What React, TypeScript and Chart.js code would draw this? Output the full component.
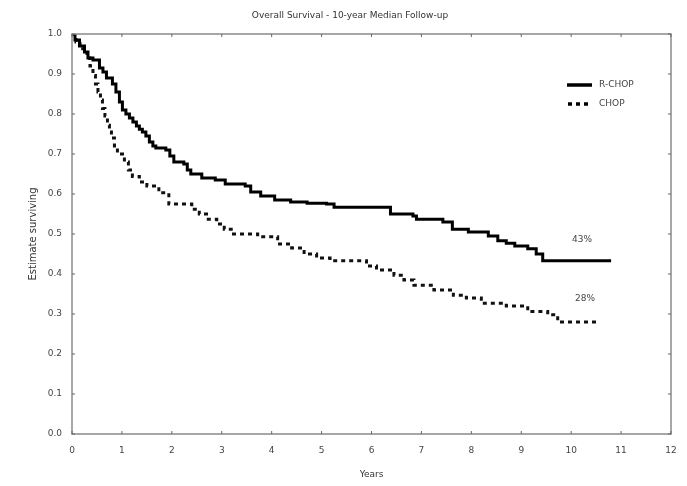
import React, { useEffect, useRef } from "react";
import { Chart, registerables } from "chart.js";

Chart.register(...registerables);

const titleText = "Overall Survival - 10-year Median Follow-up";
const xAxisLabel = "Years";
const yAxisLabel = "Estimate surviving";
const seriesNames = ["R-CHOP", "CHOP"];
const endLabels = ["43%", "28%"];

const xTicks = [0, 1, 2, 3, 4, 5, 6, 7, 8, 9, 10, 11, 12];
const yTicks = [0, 0.1, 0.2, 0.3, 0.4, 0.5, 0.6, 0.7, 0.8, 0.9, 1.0];

const rchopYears = [0, 0.06, 0.15, 0.25, 0.32, 0.42, 0.55, 0.62, 0.69, 0.81, 0.88, 0.95, 1.01, 1.08, 1.15, 1.22, 1.29, 1.35, 1.41, 1.48, 1.55, 1.62, 1.68, 1.88, 1.96, 2.04, 2.24, 2.31, 2.38, 2.6, 2.87, 3.07, 3.47, 3.58, 3.78, 4.06, 4.38, 4.71, 5.1, 5.25, 6.38, 6.83, 6.9, 7.43, 7.62, 7.94, 8.34, 8.53, 8.7, 8.87, 9.13, 9.3, 9.43, 10.8];
const rchopSurvival = [1.0, 0.985, 0.97, 0.955, 0.94, 0.935, 0.915, 0.905, 0.89, 0.875, 0.855, 0.83, 0.81, 0.8, 0.79, 0.78, 0.77, 0.762, 0.755, 0.745, 0.73, 0.72, 0.715, 0.71, 0.695, 0.68, 0.675, 0.66, 0.65, 0.64, 0.635, 0.625, 0.62, 0.605, 0.595, 0.585, 0.58, 0.577, 0.575, 0.567, 0.55, 0.545, 0.537, 0.53, 0.512, 0.505, 0.495, 0.483, 0.477, 0.47, 0.463, 0.45, 0.433, 0.433];

const chopYears = [0, 0.08, 0.16, 0.3, 0.36, 0.42, 0.47, 0.52, 0.57, 0.61, 0.66, 0.71, 0.75, 0.79, 0.85, 0.91, 1.05, 1.13, 1.21, 1.35, 1.5, 1.74, 1.94, 2.4, 2.55, 2.73, 2.9, 3.05, 3.19, 3.72, 4.12, 4.4, 4.65, 4.9, 5.17, 5.9, 6.1, 6.45, 6.65, 6.85, 7.25, 7.64, 7.9, 8.2, 8.7, 9.13, 9.53, 9.73, 10.56];
const chopSurvival = [1.0, 0.98, 0.963, 0.94, 0.92, 0.896, 0.875, 0.855, 0.835, 0.814, 0.795, 0.772, 0.755, 0.74, 0.72, 0.7, 0.68, 0.66, 0.644, 0.63, 0.62, 0.603, 0.575, 0.562, 0.55, 0.537, 0.525, 0.512, 0.5, 0.493, 0.475, 0.465, 0.45, 0.44, 0.433, 0.42, 0.41, 0.397, 0.385, 0.372, 0.36, 0.347, 0.34, 0.327, 0.32, 0.306, 0.298, 0.28, 0.28];

const FONT = "'DejaVu Sans', sans-serif";

const toPoints = (xs: number[], ys: number[]) => xs.map((x, i) => ({ x, y: ys[i] }));

const overlay = {
  id: "overlay",
  afterDraw(chart: any) {
    const { ctx, chartArea } = chart;
    const xs = chart.scales.x;
    const ys = chart.scales.y;
    const { left, right, top, bottom } = chartArea;
    ctx.save();
    ctx.strokeStyle = "#8a8a8a";
    ctx.lineWidth = 1.5;
    ctx.strokeRect(left, top, right - left, bottom - top);
    ctx.lineWidth = 1;
    ctx.strokeStyle = "#666";
    ctx.beginPath();
    xTicks.forEach((t) => {
      const px = xs.getPixelForValue(t);
      ctx.moveTo(px, bottom);
      ctx.lineTo(px, bottom - 3);
      ctx.moveTo(px, top);
      ctx.lineTo(px, top + 3);
    });
    yTicks.forEach((t) => {
      const py = ys.getPixelForValue(t);
      ctx.moveTo(left, py);
      ctx.lineTo(left + 3, py);
      ctx.moveTo(right, py);
      ctx.lineTo(right - 3, py);
    });
    ctx.stroke();

    ctx.fillStyle = "#333";
    ctx.font = `9px ${FONT}`;
    ctx.textAlign = "center";
    ctx.textBaseline = "middle";
    ctx.fillText(titleText, 350, 16);

    ctx.fillText(xAxisLabel, (left + right) / 2, 475);

    ctx.save();
    ctx.translate(33, (top + bottom) / 2);
    ctx.rotate(-Math.PI / 2);
    ctx.font = `10px ${FONT}`;
    ctx.fillText(yAxisLabel, 0, 0);
    ctx.restore();

    ctx.strokeStyle = "#000";
    ctx.lineWidth = 3.5;
    ctx.setLineDash([]);
    ctx.beginPath();
    ctx.moveTo(567, 85);
    ctx.lineTo(592, 85);
    ctx.stroke();
    ctx.setLineDash([4, 4]);
    ctx.beginPath();
    ctx.moveTo(568, 104);
    ctx.lineTo(592, 104);
    ctx.stroke();
    ctx.setLineDash([]);
    ctx.fillStyle = "#444";
    ctx.font = `9px ${FONT}`;
    ctx.textAlign = "left";
    ctx.fillText(seriesNames[0], 599, 85);
    ctx.fillText(seriesNames[1], 599, 104);

    ctx.textAlign = "center";
    ctx.fillText(endLabels[0], 582, 240);
    ctx.fillText(endLabels[1], 585, 299);
    ctx.restore();
  },
};

export default function App() {
  const ref = useRef<HTMLCanvasElement | null>(null);
  useEffect(() => {
    if (!ref.current) return;
    const chart = new Chart(ref.current, {
      type: "scatter",
      data: {
        datasets: [
          {
            label: seriesNames[0],
            data: toPoints(rchopYears, rchopSurvival),
            showLine: true,
            stepped: true,
            borderColor: "#000",
            borderWidth: 3,
            pointRadius: 0,
            fill: false,
          },
          {
            label: seriesNames[1],
            data: toPoints(chopYears, chopSurvival),
            showLine: true,
            stepped: true,
            borderColor: "#111",
            borderWidth: 3,
            borderDash: [4, 4],
            pointRadius: 0,
            fill: false,
          },
        ],
      },
      plugins: [overlay],
      options: {
        responsive: false,
        animation: false,
        layout: { padding: { top: 34, right: 16, left: 0, bottom: 0 } },
        plugins: { legend: { display: false }, title: { display: false }, tooltip: { enabled: false } },
        scales: {
          x: {
            type: "linear",
            min: 0,
            max: 12,
            grid: { display: false, drawTicks: false },
            border: { display: false },
            afterBuildTicks: (s: any) => {
              s.ticks = xTicks.map((v) => ({ value: v }));
            },
            afterFit: (s: any) => {
              s.height = 52;
              s.paddingLeft = 0;
              s.paddingRight = 0;
            },
            ticks: {
              padding: 11,
              color: "#444",
              font: { family: FONT, size: 9 },
              callback: (v: any) => String(v),
              maxRotation: 0,
            },
          },
          y: {
            type: "linear",
            min: 0,
            max: 1,
            grid: { display: false, drawTicks: false },
            border: { display: false },
            afterBuildTicks: (s: any) => {
              s.ticks = yTicks.map((v) => ({ value: v }));
            },
            afterFit: (s: any) => {
              s.width = 72;
              s.paddingTop = 0;
              s.paddingBottom = 0;
            },
            ticks: {
              padding: 10,
              color: "#444",
              font: { family: FONT, size: 9 },
              callback: (v: any) => Number(v).toFixed(1),
            },
          },
        },
      },
    });
    return () => chart.destroy();
  }, []);
  return (
    <div style={{ position: "absolute", left: 0, top: 0, width: 687, height: 486, background: "#fff" }}>
      <canvas ref={ref} width={687} height={486} style={{ width: 687, height: 486 }} />
    </div>
  );
}
